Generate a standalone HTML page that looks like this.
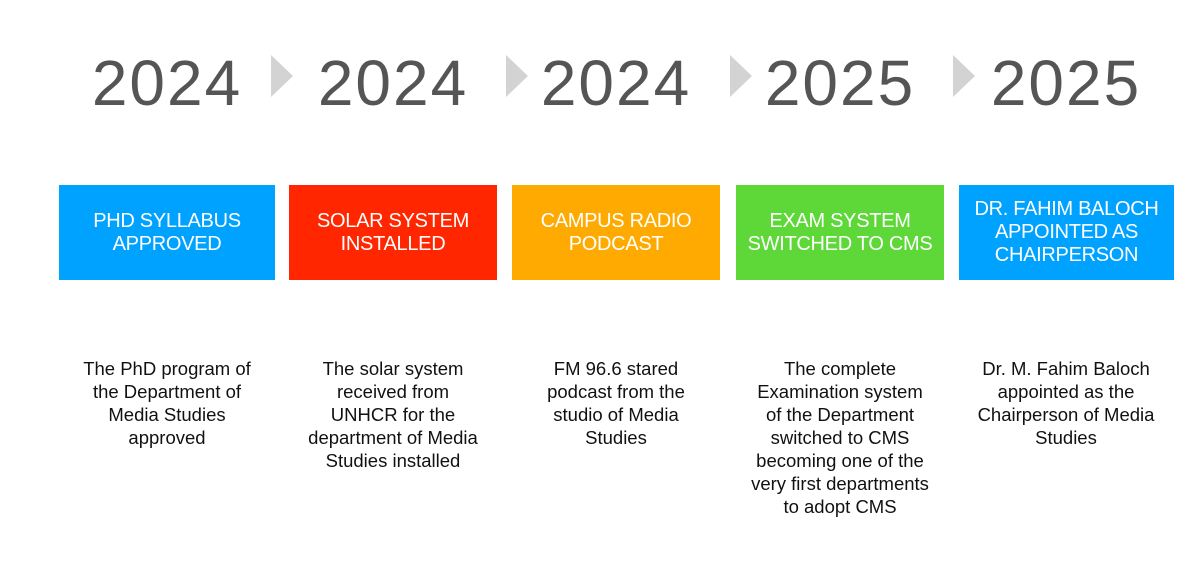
<!DOCTYPE html>
<html><head><meta charset="utf-8"><style>
body{margin:0;width:1200px;height:563px;background:#fff;position:relative;overflow:hidden;font-family:"Liberation Sans",Arial,sans-serif}
.yr{position:absolute;top:45px;width:230px;text-align:center;font-size:64px;color:#555;line-height:76px;letter-spacing:2px}
.arr{position:absolute;top:55px;width:0;height:0;border-top:21px solid transparent;border-bottom:21px solid transparent;border-left:22px solid #d3d3d3}
.box{position:absolute;top:185px;height:95px;color:#fff;font-size:20px;line-height:23px;display:flex;align-items:center;justify-content:center;text-align:center;letter-spacing:-0.3px}
.desc{position:absolute;top:357px;text-align:center;font-size:18.5px;line-height:23px;color:#111}
</style></head><body>
<div class="yr" style="left:52px">2024</div>
<div class="yr" style="left:278px">2024</div>
<div class="yr" style="left:501px">2024</div>
<div class="yr" style="left:725px">2025</div>
<div class="yr" style="left:951px">2025</div>
<div class="arr" style="left:271px"></div>
<div class="arr" style="left:506px"></div>
<div class="arr" style="left:730px"></div>
<div class="arr" style="left:953px"></div>
<div class="box" style="left:59px;width:216px;background:#00a2ff">PHD SYLLABUS<br>APPROVED</div>
<div class="box" style="left:289px;width:208px;background:#ff2600">SOLAR SYSTEM<br>INSTALLED</div>
<div class="box" style="left:512px;width:208px;background:#ffaa00">CAMPUS RADIO<br>PODCAST</div>
<div class="box" style="left:736px;width:208px;background:#5dd838">EXAM SYSTEM<br>SWITCHED TO CMS</div>
<div class="box" style="left:959px;width:215px;background:#00a2ff">DR. FAHIM BALOCH<br>APPOINTED AS<br>CHAIRPERSON</div>
<div class="desc" style="left:62px;width:210px">The PhD program of<br>the Department of<br>Media Studies<br>approved</div>
<div class="desc" style="left:288px;width:210px">The solar system<br>received from<br>UNHCR for the<br>department of Media<br>Studies installed</div>
<div class="desc" style="left:511px;width:210px">FM 96.6 stared<br>podcast from the<br>studio of Media<br>Studies</div>
<div class="desc" style="left:735px;width:210px">The complete<br>Examination system<br>of the Department<br>switched to CMS<br>becoming one of the<br>very first departments<br>to adopt CMS</div>
<div class="desc" style="left:961px;width:210px">Dr. M. Fahim Baloch<br>appointed as the<br>Chairperson of Media<br>Studies</div>
</body></html>
